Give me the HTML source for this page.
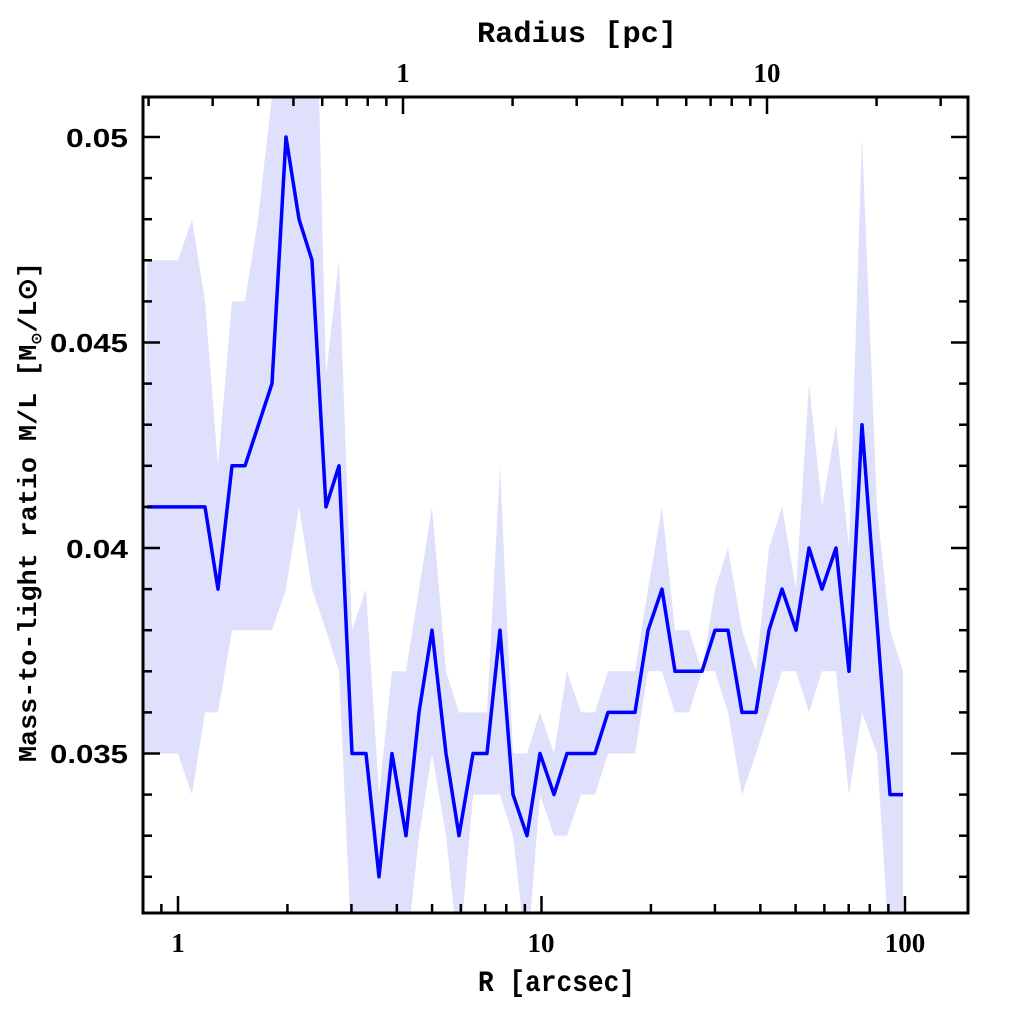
<!DOCTYPE html>
<html><head><meta charset="utf-8"><style>
html,body{margin:0;padding:0;background:#fff;width:1024px;height:1024px;overflow:hidden}
</style></head><body>
<svg id="s" width="1024" height="1024" xmlns="http://www.w3.org/2000/svg">
<defs><clipPath id="c"><rect x="143" y="97" width="825" height="816"/></clipPath></defs>
<g id="plot" clip-path="url(#c)"></g>
<rect x="143" y="97" width="825" height="816" fill="none" stroke="#000" stroke-width="3"/>
<g id="ticks" stroke="#000" stroke-width="2.5"></g>
<g font-family="Liberation Sans, sans-serif" font-weight="bold" font-size="26" fill="#000" text-anchor="end">
<text x="128" y="147" textLength="62" lengthAdjust="spacingAndGlyphs">0.05</text>
<text x="128" y="352" textLength="78" lengthAdjust="spacingAndGlyphs">0.045</text>
<text x="128" y="558" textLength="62" lengthAdjust="spacingAndGlyphs">0.04</text>
<text x="128" y="763" textLength="78" lengthAdjust="spacingAndGlyphs">0.035</text>
</g>
<g font-family="Liberation Serif, serif" font-weight="bold" font-size="27" fill="#000" text-anchor="middle">
<text x="178" y="952">1</text>
<text x="541" y="952">10</text>
<text x="905" y="952">100</text>
<text x="403" y="82">1</text>
<text x="767" y="82">10</text>
</g>
<g font-family="Liberation Mono, monospace" font-weight="bold" font-size="30" fill="#000">
<text x="478" y="991" textLength="157" lengthAdjust="spacingAndGlyphs">R [arcsec]</text>
<text x="477" y="42" textLength="200" lengthAdjust="spacingAndGlyphs">Radius [pc]</text>
</g>
<text transform="translate(36,762) rotate(-90)" font-family="Liberation Mono, monospace" font-weight="bold" font-size="26" textLength="500" lengthAdjust="spacingAndGlyphs">Mass-to-light ratio M/L [M<tspan font-size="14" dy="5">⊙</tspan><tspan dy="-5">/L⊙]</tspan></text>
</svg>
<script>
var NS="http://www.w3.org/2000/svg";
function Y(v){return 548-(v-40)*41.1;}
var line=[[147,41],[205,41],[218,39],[232,42],[245,42],[272,44],[286,50],[299,48],[312,47],[326,41],[339,42],[352,35],[366,35],[379,32],[392,35],[406,33],[419,36],[432,38],[446,35],[459,33],[473,35],[487,35],[500,38],[513,34],[527,33],[540,35],[554,34],[567,35],[595,35],[608,36],[635,36],[648,38],[662,39],[675,37],[702,37],[715,38],[728,38],[742,36],[756,36],[769,38],[782,39],[796,38],[809,40],[822,39],[836,40],[849,37],[862,43],[890,34],[903,34]];
var up=[[147,47],[178,47],[192,48],[205,46],[218,42],[232,46],[245,46],[258,48],[272,51],[312,52],[318,52],[326,44.2],[339,47],[352,38],[366,39],[379,34],[392,37],[406,37],[419,39],[432,41],[446,37],[459,36],[487,36],[500,42],[513,35],[527,35],[540,36],[554,35],[567,37],[581,36],[595,36],[608,37],[635,37],[648,39],[662,41],[675,38],[689,38],[702,37],[715,39],[728,40],[742,38],[756,37],[769,40],[782,41],[796,39],[809,44],[822,41],[836,43],[849,40],[862,50],[877,41],[890,38],[903,37]];
var lo=[[903,30],[890,30],[877,35],[862,36],[849,34],[836,37],[822,37],[809,36],[796,37],[782,37],[769,36],[756,35],[742,34],[728,36],[715,37],[702,37],[689,36],[675,36],[662,37],[648,37],[635,35],[608,35],[595,34],[581,34],[567,33],[554,33],[540,34],[527,30],[513,33],[500,34],[473,34],[459,30],[446,33],[432,35],[419,33],[406,30],[392,30],[379,30],[366,30],[352,30],[339,37],[326,38],[312,39],[299,41],[286,39],[272,38],[232,38],[218,36],[205,36],[192,34],[178,35],[147,35],[143,35]];
var pts=up.concat(lo).map(function(p){return p[0]+","+Y(p[1]).toFixed(1)}).join(" ");
var plot=document.getElementById("plot");
var pg=document.createElementNS(NS,"polygon");pg.setAttribute("points",pts);pg.setAttribute("fill","#dfe0fb");plot.appendChild(pg);
var pl=document.createElementNS(NS,"polyline");pl.setAttribute("points",line.map(function(p){return p[0]+","+Y(p[1]).toFixed(1)}).join(" "));
pl.setAttribute("fill","none");pl.setAttribute("stroke","#0000ff");pl.setAttribute("stroke-width","3.5");pl.setAttribute("stroke-linejoin","round");plot.appendChild(pl);
var t=document.getElementById("ticks");
function L(x1,y1,x2,y2){var l=document.createElementNS(NS,"line");l.setAttribute("x1",x1);l.setAttribute("y1",y1);l.setAttribute("x2",x2);l.setAttribute("y2",y2);t.appendChild(l);}
for(var v=32;v<=50;v++){var y=Y(v);var big=(v%5==0);var len=big?17:9;L(143,y,143+len,y);L(968,y,968-len,y);}
for(var d=-1;d<=2;d++){for(var m=1;m<10;m++){var x=178+(d+Math.log10(m))*363.5;if(x<=143||x>=968)continue;var len=m==1?17:9;L(x,913,x,913-len);}}
for(var d=-1;d<=1;d++){for(var m=1;m<10;m++){var x=403+(d+Math.log10(m))*364;if(x<=143||x>=968)continue;var len=m==1?17:9;L(x,97,x,97+len);}}
</script>
</body></html>
